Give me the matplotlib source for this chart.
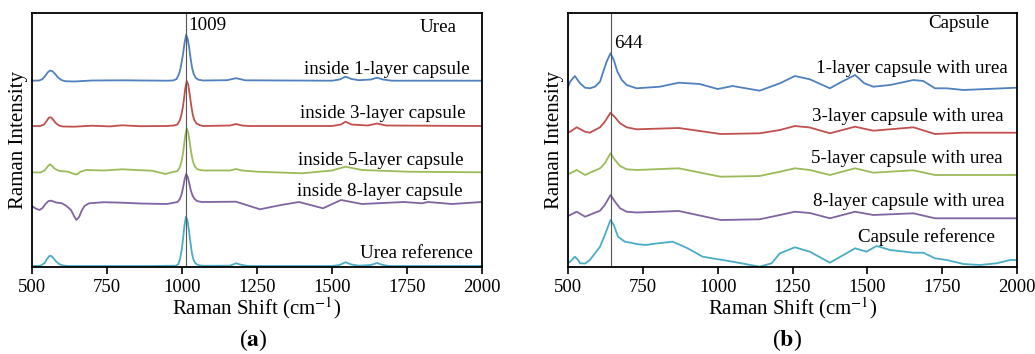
import numpy as np
import matplotlib
matplotlib.use('Agg')
import matplotlib.pyplot as plt

plt.rcParams['font.family'] = ['Liberation Serif', 'DejaVu Serif']
plt.rcParams['mathtext.fontset'] = 'stix'

# ---- panel (a): urea spectra, (shift, offset intensity)
urea_1_x = [500, 525, 535, 545, 552, 560, 568, 577, 587, 598, 610, 640, 700, 800, 950, 970, 982, 990, 995, 1000, 1004, 1009, 1014, 1019, 1024, 1029, 1034, 1039, 1046, 1055, 1070, 1150, 1165, 1180, 1195, 1210, 1500, 1525, 1545, 1565, 1590, 1630, 1650, 1670, 1700, 2000]
urea_1_y = [186.3, 186.5, 188, 191.5, 194.5, 196.5, 195.8, 193, 189.5, 187, 185.8, 185.5, 186.5, 186.7, 186.3, 186.5, 188, 193, 198.7, 206.7, 214, 225, 232.3, 228, 219, 208, 198.7, 193, 189, 187.3, 186.5, 186.8, 187.8, 188.8, 187.8, 186.7, 186.3, 187.5, 190.3, 188, 186.8, 187.5, 189.3, 187.5, 186.3, 186.3]

urea_3_x = [500, 528, 540, 549, 556, 563, 570, 579, 590, 602, 640, 700, 760, 800, 860, 950, 972, 985, 993, 998, 1003, 1007, 1011, 1016, 1021, 1026, 1031, 1036, 1041, 1048, 1058, 1070, 1160, 1180, 1200, 1220, 1500, 1530, 1545, 1565, 1620, 1650, 1680, 2000]
urea_3_y = [141, 141, 142.5, 146, 149.3, 149.7, 147.5, 144, 141.5, 140.5, 140.3, 141.3, 140.6, 141.7, 140.8, 141, 141.5, 142.5, 147, 152, 160, 169, 179, 186, 182, 172, 161, 152, 147, 143.5, 142, 141, 141.5, 143, 141.5, 141, 141, 142.5, 145.3, 142.5, 141.5, 143.5, 141.5, 141]

urea_5_x = [500, 528, 542, 551, 559, 567, 577, 592, 620, 640, 650, 660, 680, 740, 800, 860, 900, 945, 970, 985, 993, 998, 1003, 1007, 1011, 1016, 1021, 1026, 1031, 1036, 1042, 1050, 1060, 1075, 1160, 1180, 1200, 1250, 1400, 1500, 1545, 1600, 1750, 2000]
urea_5_y = [94.7, 94.5, 96.5, 100, 102.7, 101, 98, 96, 95.3, 93, 92.5, 95, 97, 96.5, 97.7, 96.8, 96.3, 93, 95, 96, 100, 105, 113, 122, 132, 138.7, 134, 124, 114, 106, 101, 98, 97, 96.5, 96.5, 98, 96.5, 95.3, 93.7, 96.5, 100.3, 97, 95.3, 94.7]

urea_8_x = [500, 512, 525, 535, 545, 555, 565, 580, 600, 615, 630, 640, 648, 657, 665, 675, 690, 740, 800, 860, 950, 985, 993, 999, 1004, 1009, 1014, 1019, 1024, 1029, 1035, 1042, 1050, 1065, 1180, 1260, 1330, 1390, 1470, 1530, 1600, 1740, 1800, 1820, 1900, 2000]
urea_8_y = [61, 58.5, 57, 59, 63, 66, 66.3, 64.5, 63.7, 61, 57, 51, 47, 50, 56, 61, 63.7, 64.8, 64.3, 63.5, 63, 65, 68, 73, 80, 88, 93, 90, 84, 77, 71.5, 68, 66, 65, 65.3, 57.7, 62, 65, 58.7, 67, 63, 65, 63.7, 65, 63, 65]

urea_ref_x = [500, 528, 542, 550, 557, 563, 570, 579, 590, 603, 620, 900, 980, 988, 994, 999, 1003, 1008, 1013, 1018, 1023, 1028, 1033, 1038, 1045, 1055, 1070, 1160, 1180, 1200, 1220, 1500, 1525, 1545, 1565, 1590, 1630, 1650, 1670, 1690, 2000]
urea_ref_y = [1, 1.2, 4, 8, 10.8, 11.3, 9.3, 6, 3, 1.5, 1, 1, 1.3, 3, 8.5, 17, 27, 41, 50.3, 47, 37, 25, 14, 7.5, 3.5, 1.8, 1.2, 1.3, 3.7, 2, 1, 1, 2, 4.7, 2.5, 1.3, 2, 4, 2, 1, 1]

# ---- panel (b): capsule spectra
cap_1_x = [500, 507, 523, 540, 557, 573, 590, 607, 616, 629, 642, 653, 665, 680, 696, 729, 807, 870, 940, 1000, 1050, 1140, 1208, 1258, 1308, 1375, 1415, 1459, 1490, 1520, 1576, 1654, 1687, 1726, 1765, 1821, 2000]
cap_1_y = [180, 185.3, 191, 183.7, 179.3, 178.7, 180.3, 185.3, 193.7, 205.3, 213.7, 207, 195.3, 187, 182, 178.7, 180.3, 184.3, 183, 178, 181, 176.3, 183.7, 191, 187.7, 178.7, 185.3, 192, 183.7, 180.3, 182, 187, 186, 178.7, 178.7, 177, 179.3]

cap_3_x = [500, 507, 529, 557, 573, 607, 623, 642, 657, 674, 696, 729, 870, 1010, 1140, 1208, 1258, 1308, 1375, 1459, 1520, 1654, 1726, 1821, 2000]
cap_3_y = [134.5, 135.3, 139.7, 135.3, 134.3, 139.7, 145.3, 154.3, 149.7, 143.7, 139.7, 137.7, 139, 133, 133.7, 137, 141, 139.5, 133.7, 140.3, 136.3, 139.7, 133, 134.3, 134.3]

cap_5_x = [500, 507, 529, 557, 607, 623, 642, 657, 674, 696, 729, 870, 1010, 1140, 1208, 1258, 1308, 1375, 1459, 1520, 1654, 1726, 2000]
cap_5_y = [93, 93.7, 97, 92, 98.7, 103.7, 113.7, 107, 101, 97.7, 97, 98.7, 90.3, 91, 95.3, 98.7, 97, 92, 98.7, 94.3, 96.7, 92, 92]

cap_8_x = [500, 507, 529, 557, 607, 623, 642, 657, 674, 696, 729, 870, 1010, 1140, 1208, 1258, 1308, 1375, 1459, 1520, 1654, 1726, 2000]
cap_8_y = [51, 52, 55.3, 50.3, 56.3, 62, 72, 65.3, 58.7, 55.3, 54.5, 56, 47, 47.7, 52, 55.3, 54, 48.7, 55.3, 52, 53.7, 48.7, 48.7]

cap_ref_x = [500, 507, 523, 534, 540, 557, 573, 607, 623, 642, 653, 667, 690, 710, 729, 760, 800, 850, 900, 950, 1050, 1140, 1180, 1208, 1258, 1308, 1375, 1420, 1459, 1497, 1531, 1576, 1620, 1654, 1687, 1726, 1765, 1821, 1877, 1932, 1977, 2000]
cap_ref_y = [4, 5.3, 10.3, 7, 3.7, 3.5, 7, 20.3, 32, 47, 42, 30.3, 25.3, 24.3, 23, 22, 23.7, 25.3, 18.7, 10.3, 5.3, 0.3, 3.7, 13.7, 19.7, 15.3, 4.3, 12, 18.7, 15.3, 21, 17, 15.5, 14.3, 14.3, 8.7, 7, 3, 2, 3.7, 7, 7]

colors = ['#4F81BD', '#C0504D', '#9BBB59', '#8064A2', '#4BACC6']

urea_labels = ['inside 1-layer capsule', 'inside 3-layer capsule', 'inside 5-layer capsule',
               'inside 8-layer capsule', 'Urea reference']
urea_label_pos = [(1960, 197), (1946, 153.7), (1940, 106.3), (1935, 76), (1971, 13)]
cap_labels = ['1-layer capsule with urea', '3-layer capsule with urea', '5-layer capsule with urea',
              '8-layer capsule with urea', 'Capsule reference']
cap_label_pos = [(1969, 198.7), (1954, 150.3), (1953, 108.7), (1957, 66), (1927, 29.7)]

fig = plt.figure(figsize=(10.35, 3.54), dpi=100)
ax_a = fig.add_axes([32 / 1035, 87 / 354, 450 / 1035, 254 / 354])
ax_b = fig.add_axes([568 / 1035, 87 / 354, 449 / 1035, 254 / 354])

FS = 13.7


def style_axis(ax):
    ax.set_xlim(500, 2000)
    ax.set_ylim(0, 254)
    ax.set_xticks([500, 750, 1000, 1250, 1500, 1750, 2000])
    ax.set_yticks([])
    ax.tick_params(axis='x', direction='out', length=5, width=1.2, labelsize=13.5, pad=4)
    for sp in ax.spines.values():
        sp.set_linewidth(1.3)
    ax.set_xlabel('Raman Shift (cm$^{-1}$)', fontsize=15, labelpad=-1)
    ax.set_ylabel('Raman Intensity', fontsize=15, labelpad=3)


urea_series = [(urea_1_x, urea_1_y), (urea_3_x, urea_3_y), (urea_5_x, urea_5_y),
               (urea_8_x, urea_8_y), (urea_ref_x, urea_ref_y)]
for (x, y), c, lab, (tx, ty) in zip(urea_series, colors, urea_labels, urea_label_pos):
    ax_a.plot(x, y, color=c, lw=1.3)
    ax_a.text(tx, ty, lab, ha='right', va='center', fontsize=FS)
ax_a.axvline(1012, color='#555555', lw=0.8)
ax_a.text(1020, 241, '1009', ha='left', va='center', fontsize=FS)
ax_a.text(1855, 240, 'Urea', ha='center', va='center', fontsize=FS)
style_axis(ax_a)

cap_series = [(cap_1_x, cap_1_y), (cap_3_x, cap_3_y), (cap_5_x, cap_5_y),
              (cap_8_x, cap_8_y), (cap_ref_x, cap_ref_y)]
for (x, y), c, lab, (tx, ty) in zip(cap_series, colors, cap_labels, cap_label_pos):
    ax_b.plot(x, y, color=c, lw=1.3)
    ax_b.text(tx, ty, lab, ha='right', va='center', fontsize=FS)
ax_b.axvline(644, color='#555555', lw=0.8)
ax_b.text(654, 224, '644', ha='left', va='center', fontsize=FS)
ax_b.text(1807, 243, 'Capsule', ha='center', va='center', fontsize=FS)
style_axis(ax_b)

fig.text(253 / 1035, 1 - 340 / 354, r'($\mathbf{a}$)', ha='center', va='center', fontsize=17)
fig.text(787 / 1035, 1 - 340 / 354, r'($\mathbf{b}$)', ha='center', va='center', fontsize=17)

fig.savefig('out.png', dpi=100)
